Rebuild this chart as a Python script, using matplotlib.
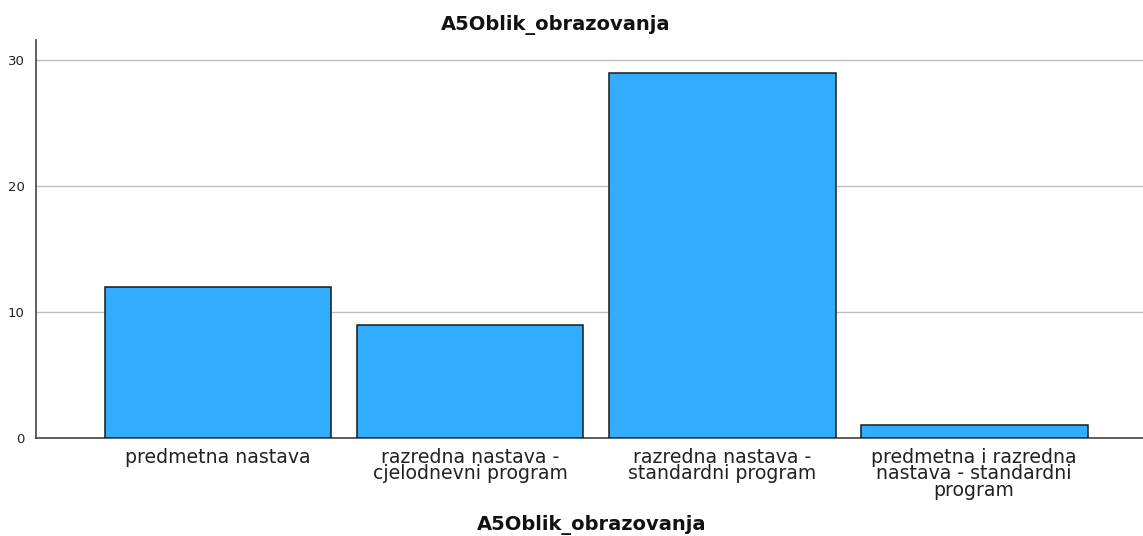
import matplotlib
matplotlib.use("Agg")
import matplotlib.pyplot as plt

categories = ["predmetna nastava",
              "razredna nastava -\ncjelodnevni program",
              "razredna nastava -\nstandardni program",
              "predmetna i razredna\nnastava - standardni\nprogram"]
counts = [12, 9, 29, 1]
yticks = [0, 10, 20, 30]
title = "A5Oblik_obrazovanja"

plt.rcParams['font.family'] = ['DejaVu Sans']

fig = plt.figure(figsize=(11.43, 5.36), dpi=100)
ax = fig.add_axes([36/1143, 1-438/536, 1-36/1143, (438-40)/536])

x = list(range(len(categories)))
ax.bar(x, counts, width=0.9, color="#33ADFF", edgecolor="#1a1a1a", linewidth=1.1, zorder=3)
ax.set_xlim(-0.722, 3.67)
ax.set_ylim(0, 31.6)
ax.set_yticks(yticks)
ax.set_yticklabels([str(t) for t in yticks], fontsize=9.5, color="#222222")
ax.set_xticks(x)
ax.set_xticklabels(categories, fontsize=13.6, color="#222222", linespacing=0.83)
ax.tick_params(axis='both', length=0)
ax.tick_params(axis='y', pad=8)
ax.tick_params(axis='x', pad=7)
ax.yaxis.grid(True, color="#BDBDBD", linewidth=1, zorder=0)
ax.set_axisbelow(True)
for s in ['top', 'right']:
    ax.spines[s].set_visible(False)
for s in ['left', 'bottom']:
    ax.spines[s].set_color("#444444")
    ax.spines[s].set_linewidth(1.2)

fig.text(556/1143, 1-25/536, title, ha='center', va='center', fontsize=14, fontweight='bold', color="#111111")
fig.text(592/1143, 1-525/536, title, ha='center', va='center', fontsize=14, fontweight='bold', color="#111111")

fig.savefig("out.png", dpi=100)
